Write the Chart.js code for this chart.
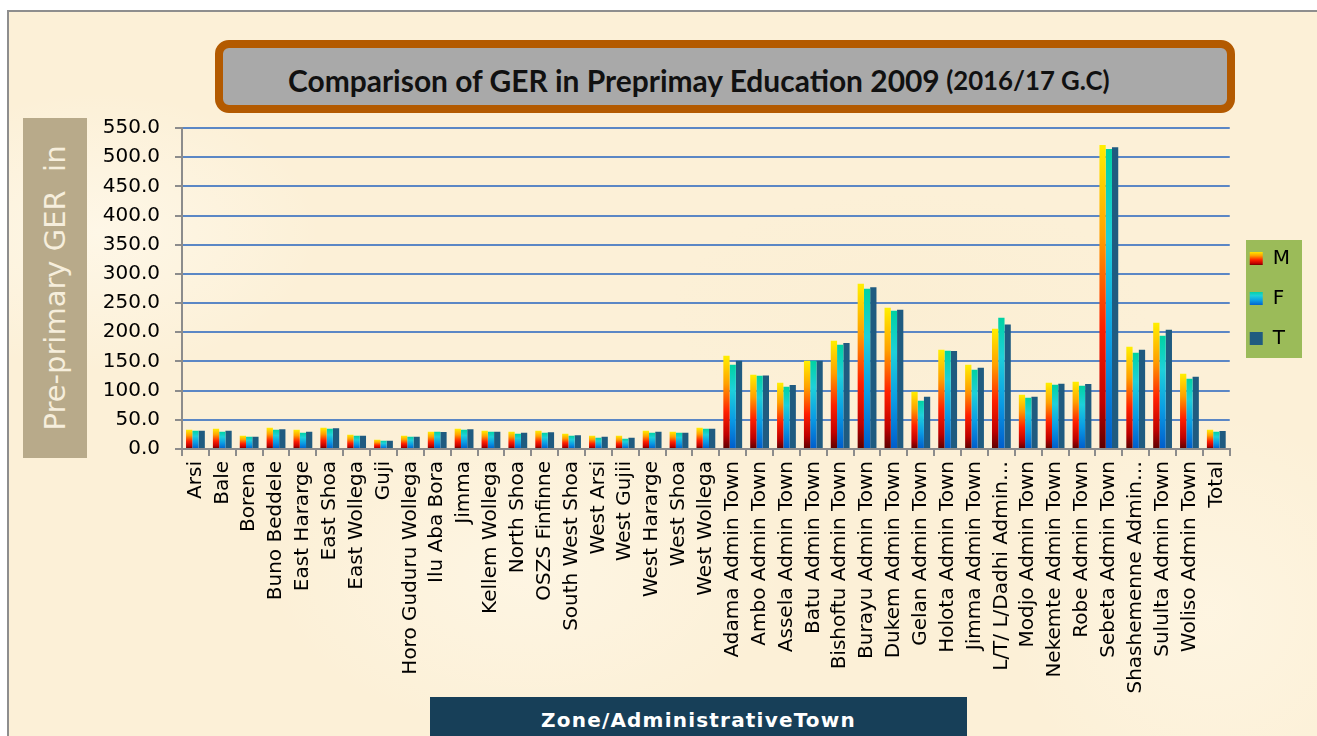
<!DOCTYPE html>
<html>
<head>
<meta charset="utf-8">
<script src="https://cdn.jsdelivr.net/npm/chart.js@4.4.1/dist/chart.umd.min.js"></script>
<style>
  html, body { margin: 0; padding: 0; background: #fff; width: 1317px; height: 736px; overflow: hidden; }
  #paper {
    position: absolute; left: 7px; top: 10px; width: 1330px; height: 750px;
    border-left: 2px solid #8e8e8e; border-top: 2px solid #8e8e8e;
    background:
      radial-gradient(ellipse 220px 140px at 90px 220px, rgba(255,250,238,0.7), rgba(255,250,238,0)),
      radial-gradient(ellipse 260px 160px at 520px 560px, rgba(255,249,235,0.6), rgba(255,249,235,0)),
      radial-gradient(ellipse 240px 120px at 900px 300px, rgba(250,236,206,0.4), rgba(250,236,206,0)),
      radial-gradient(ellipse 200px 200px at 1200px 600px, rgba(255,248,232,0.6), rgba(255,248,232,0)),
      #fcf0d7;
  }
  #titleBox {
    position: absolute; left: 215px; top: 40px; width: 1004px; height: 57px;
    border: 8px solid #b35a00; border-radius: 14px; background: #a9a9a9;
  }
  #titleText {
    position: absolute; left: 288px; top: 62px; height: 36px; display: flex; align-items: center;
    font-family: Lato, "Open Sans", sans-serif; font-weight: bold; font-size: 25px; color: #111; white-space: nowrap;
  }
  #titleText .sub { font-size: 0.86em; margin-left: 0.25em; }
  #yTitle {
    position: absolute; left: 23px; top: 118px; width: 64px; height: 340px; background: #b8aa8a;
    display: flex; align-items: center; justify-content: center;
  }
  #yTitle span {
    display: block; white-space: nowrap; transform: rotate(-90deg);
    font-family: "DejaVu Sans", sans-serif; font-size: 29px; color: #f6eedc;
  }
  #xTitle {
    position: absolute; left: 430px; top: 697px; width: 537px; height: 46px; background: #173f58;
    display: flex; align-items: center; justify-content: center;
    font-family: "DejaVu Sans", sans-serif; font-weight: bold; font-size: 20px; letter-spacing: 1.2px; color: #fff;
  }
  #chart { position: absolute; left: 0; top: 0; }
</style>
</head>
<body>
<div id="paper"></div>
<div id="titleBox"></div>
<div id="titleText"><span id="titleMain">Comparison of GER in Preprimay Education 2009</span><span class="sub">(2016/17 G.C)</span></div>
<div id="yTitle"><span>Pre-primary GER&nbsp;&nbsp;in</span></div>
<div id="xTitle">Zone/AdministrativeTown</div>
<canvas id="chart" width="1317" height="736"></canvas>
<script>
// Zones and admin towns along the x axis
const categories = [
  "Arsi", "Bale", "Borena", "Buno Beddele", "East Hararge", "East Shoa", "East Wollega", "Guji",
  "Horo Guduru Wollega", "Ilu Aba Bora", "Jimma", "Kellem Wollega", "North Shoa", "OSZS Finfinne",
  "South West Shoa", "West Arsi", "West Gujii", "West Hararge", "West Shoa", "West Wollega",
  "Adama Admin Town", "Ambo Admin Town", "Assela Admin Town", "Batu Admin Town", "Bishoftu Admin Town",
  "Burayu Admin Town", "Dukem Admin Town", "Gelan Admin Town", "Holota Admin Town", "Jimma Admin Town",
  "L/T/ L/Dadhi Admin…", "Modjo Admin Town", "Nekemte Admin Town", "Robe Admin Town", "Sebeta Admin Town",
  "Shashemenne Admin…", "Sululta Admin Town", "Woliso Admin Town", "Total"
];

// GER values
const maleGER = [
  33.1, 34.8, 22.8, 36.5, 33.1, 36.5, 24.5, 16.0, 22.8, 29.7, 34.8, 31.4, 29.7, 31.4, 26.2, 22.8, 22.8, 31.4, 29.7, 36.5,
  159.8, 127.2, 113.5, 151.2, 185.4, 283.0, 241.9, 98.1, 170.0, 144.4, 206.0, 93.0, 113.5, 115.3, 520.9, 175.2, 216.3, 129.0, 33.1
];
const femaleGER = [
  31.4, 29.7, 21.1, 33.1, 28.0, 34.8, 22.8, 14.3, 21.1, 29.7, 33.1, 29.7, 26.2, 28.0, 22.8, 19.4, 17.7, 28.0, 28.0, 34.8,
  144.4, 125.5, 106.7, 151.2, 178.6, 274.5, 236.8, 82.7, 168.3, 135.8, 224.8, 87.9, 110.1, 108.4, 514.0, 164.9, 194.0, 120.4, 29.7
];
const totalGER = [
  31.4, 31.4, 21.1, 33.7, 29.7, 35.4, 22.8, 14.3, 21.1, 29.1, 33.7, 29.7, 28.0, 28.5, 23.4, 21.1, 19.4, 29.7, 28.0, 34.8,
  151.2, 126.1, 109.6, 151.2, 181.5, 277.3, 238.5, 89.6, 167.8, 139.2, 213.4, 89.6, 111.8, 111.3, 517.0, 170.0, 204.3, 123.8, 30.8
];
const seriesLabels = ["M", "F", "T"];
const yMin = 0, yMax = 550, yStep = 50;

// fit title to its width in the picture
(function () {
  const t = document.getElementById('titleText');
  const w = t.getBoundingClientRect().width;
  t.style.fontSize = (25 * 822 / w) + 'px';
})();

const maleStops = [[0, "#ffef00"], [0.3, "#ffa000"], [0.6, "#ff2000"], [0.85, "#c00000"], [1, "#5a0000"]];
const femaleStops = [[0, "#00d2a2"], [0.3, "#1ed0da"], [0.65, "#0a9ce4"], [1, "#005ccc"]];
const totalColor = "#1f5b80";

function barGradient(stops) {
  return function (ctx) {
    const chart = ctx.chart;
    if (!chart.chartArea || ctx.type !== 'data') return stops[1][1];
    const y = chart.scales.y;
    const top = y.getPixelForValue(ctx.raw);
    const base = y.getPixelForValue(0);
    const g = chart.ctx.createLinearGradient(0, top, 0, base);
    stops.forEach(s => g.addColorStop(s[0], s[1]));
    return g;
  };
}

const tickFont = { family: "DejaVu Sans", size: 20 };

// green legend panel + gradient swatches
const legendPanel = {
  id: 'legendPanel',
  afterLayout(chart) {
    chart.legend.top += 10;
    chart.legend.bottom += 10;
  },
  afterUpdate(chart) {
    const lg = chart.legend;
    [maleStops, femaleStops].forEach((stops, i) => {
      const hb = lg.legendHitBoxes[i];
      if (!hb) return;
      const g = chart.ctx.createLinearGradient(0, hb.top + 3, 0, hb.top + 17);
      stops.forEach(s => g.addColorStop(s[0], s[1]));
      lg.legendItems[i].fillStyle = g;
    });
  },
  beforeDraw(chart) {
    const c = chart.ctx;
    c.save();
    c.fillStyle = "#9bbb59";
    c.fillRect(1246, 240, 56, 118);
    c.restore();
  }
};

new Chart(document.getElementById('chart').getContext('2d'), {
  type: 'bar',
  data: {
    labels: categories,
    datasets: [
      { label: seriesLabels[0], data: maleGER, backgroundColor: barGradient(maleStops) },
      { label: seriesLabels[1], data: femaleGER, backgroundColor: barGradient(femaleStops) },
      { label: seriesLabels[2], data: totalGER, backgroundColor: totalColor }
    ]
  },
  options: {
    responsive: false,
    animation: false,
    devicePixelRatio: 1,
    datasets: { bar: { categoryPercentage: 0.7, barPercentage: 1.0, borderWidth: 0 } },
    layout: { padding: { top: 128, left: 95, right: 17, bottom: 0 } },
    plugins: {
      tooltip: { enabled: false },
      legend: {
        position: 'right',
        fullSize: false,
        labels: { font: { family: "DejaVu Sans", size: 20 }, color: "#000", boxWidth: 13, boxHeight: 13, padding: 20 }
      }
    },
    scales: {
      x: {
        grid: { offset: true, drawOnChartArea: false, color: "#8c8c8c", lineWidth: 2, tickLength: 7 },
        border: { color: "#8c8c8c", width: 2 },
        ticks: { autoSkip: false, maxRotation: 90, minRotation: 90, padding: 5, color: "#000", font: tickFont },
        afterFit(s) { s.height = 287; }
      },
      y: {
        min: yMin, max: yMax,
        grid: { color: "#5b87c5", lineWidth: 2, tickColor: "#8c8c8c", tickLength: 7 },
        border: { color: "#8c8c8c", width: 2 },
        ticks: { stepSize: yStep, padding: 15, color: "#000", font: tickFont, callback: v => v.toFixed(1) },
        afterFit(s) { s.width = 87; }
      }
    }
  },
  plugins: [legendPanel]
});
</script>
</body>
</html>
